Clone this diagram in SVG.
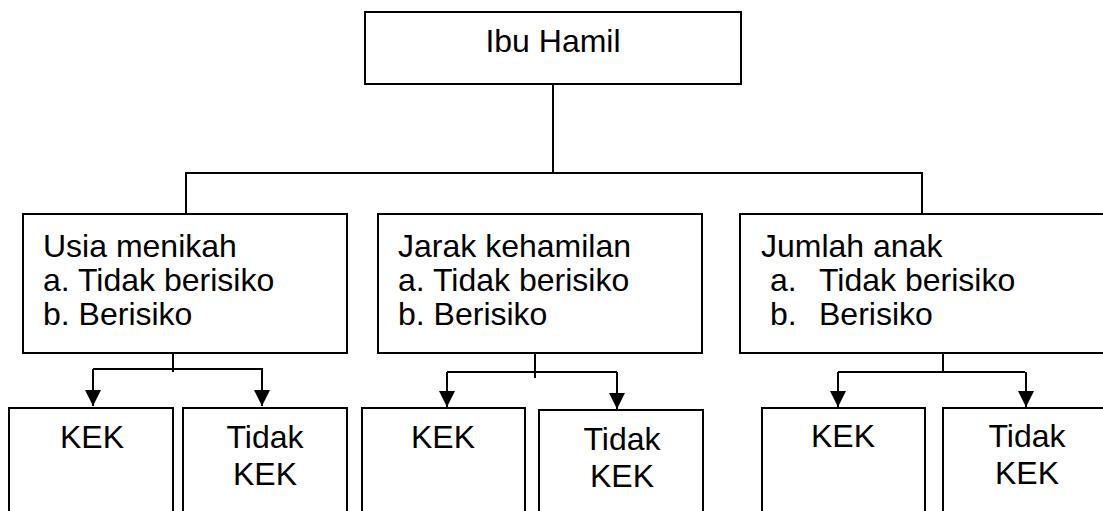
<svg xmlns="http://www.w3.org/2000/svg" width="1103" height="511" viewBox="0 0 1103 511">
<style>
.box{fill:#fff;stroke:#000;stroke-width:2}
.ln{fill:none;stroke:#000;stroke-width:2}
.t{font-family:"Liberation Sans",Arial,sans-serif;font-size:32px;fill:#000}
.c{text-anchor:middle}
</style>
<defs>
<marker id="ah" viewBox="0 0 16 16" refX="16" refY="8" markerWidth="16" markerHeight="16" markerUnits="userSpaceOnUse" orient="auto">
<path d="M0,0 L16,8 L0,16 Z" fill="#000"/>
</marker>
</defs>
<g id="connectors">
<path class="ln" d="M553,84 V173"/>
<path class="ln" d="M186,214 V173 H922 V214"/>
<path class="ln" d="M173,353 V372"/>
<path class="ln" d="M93,369 H263"/>
<path class="ln" d="M93,369 V406" marker-end="url(#ah)"/>
<path class="ln" d="M262,369 V406" marker-end="url(#ah)"/>
<path class="ln" d="M535,353 V378"/>
<path class="ln" d="M447,372 H617"/>
<path class="ln" d="M447,372 V407" marker-end="url(#ah)"/>
<path class="ln" d="M617,372 V409" marker-end="url(#ah)"/>
<path class="ln" d="M943,353 V372"/>
<path class="ln" d="M838,372 H1025"/>
<path class="ln" d="M838,372 V407" marker-end="url(#ah)"/>
<path class="ln" d="M1026,372 V407" marker-end="url(#ah)"/>
</g>
<g id="ibu-hamil">
<rect class="box" x="365" y="12" width="376" height="72"/>
<text class="t c" x="553" y="52">Ibu Hamil</text>
</g>
<g id="usia-menikah">
<rect class="box" x="23" y="214" width="324" height="139"/>
<text class="t" x="43" y="257">Usia menikah</text>
<text class="t" x="43" y="291">a. Tidak berisiko</text>
<text class="t" x="43" y="325">b. Berisiko</text>
</g>
<g id="jarak-kehamilan">
<rect class="box" x="378" y="214" width="324" height="139"/>
<text class="t" x="398" y="257">Jarak kehamilan</text>
<text class="t" x="398" y="291">a. Tidak berisiko</text>
<text class="t" x="398" y="325">b. Berisiko</text>
</g>
<g id="jumlah-anak">
<rect class="box" x="740" y="214" width="380" height="139"/>
<text class="t" x="761" y="257">Jumlah anak</text>
<text class="t" x="770" y="291">a.</text>
<text class="t" x="819" y="291">Tidak berisiko</text>
<text class="t" x="770" y="325">b.</text>
<text class="t" x="819" y="325">Berisiko</text>
</g>
<g id="kek-1">
<rect class="box" x="9" y="408" width="164" height="120"/>
<text class="t c" x="92" y="448">KEK</text>
</g>
<g id="tidak-kek-1">
<rect class="box" x="183" y="408" width="164" height="120"/>
<text class="t c" x="265" y="448">Tidak</text>
<text class="t c" x="265" y="485">KEK</text>
</g>
<g id="kek-2">
<rect class="box" x="362" y="408" width="163" height="120"/>
<text class="t c" x="443" y="448">KEK</text>
</g>
<g id="tidak-kek-2">
<rect class="box" x="539" y="410" width="164" height="120"/>
<text class="t c" x="622" y="450">Tidak</text>
<text class="t c" x="622" y="487">KEK</text>
</g>
<g id="kek-3">
<rect class="box" x="762" y="408" width="163" height="120"/>
<text class="t c" x="843" y="447">KEK</text>
</g>
<g id="tidak-kek-3">
<rect class="box" x="943" y="408" width="180" height="120"/>
<text class="t c" x="1027" y="447">Tidak</text>
<text class="t c" x="1027" y="484">KEK</text>
</g>
</svg>
